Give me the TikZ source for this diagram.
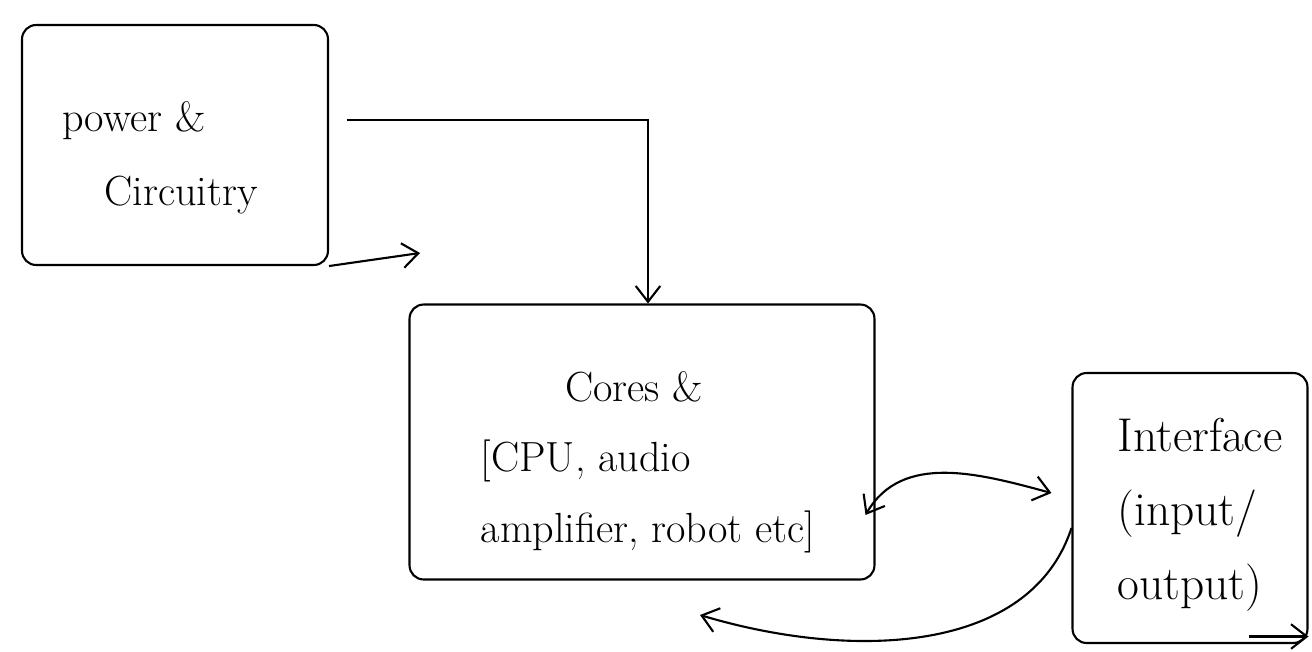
\documentclass[tikz,border=0pt]{standalone}
\usetikzlibrary{arrows.meta}
\begin{document}
\begin{tikzpicture}[x=0.02cm,y=-0.02cm,
  box/.style={draw, line width=1.2pt, rounded corners=8pt, inner sep=0pt},
  lbl/.style={font=\fontsize{24}{40}\selectfont, align=center},
  conn/.style={line width=1.2pt, -{Straight Barb[length=9pt,width=14pt]}},
  both/.style={line width=1.2pt, {Straight Barb[length=9pt,width=14pt]}-{Straight Barb[length=9pt,width=14pt]}}]
\useasboundingbox (0,0) rectangle (1312,652);
% boxes
\node[box, minimum width=6.12cm, minimum height=4.8cm] (power) at (175,145) {};
\node[box, minimum width=9.3cm, minimum height=5.5cm] (cores) at (642,442) {};
\node[box, minimum width=4.7cm, minimum height=5.4cm] (iface) at (1190,508) {};
% texts
\node[lbl, align=left] (tpower) at (160,158) {power \&\\[2pt]\quad Circuitry};
\node[lbl, align=left] (tcores) at (648,462) {\qquad Cores \&\\{}[CPU, audio\\amplifier, robot etc]};
\node[lbl, align=left, font=\fontsize{27}{42}\selectfont] (tiface) at (1200,515) {Interface\\(input/\\output)};
% connectors
\coordinate (pstub) at (420,253);
\draw[conn] ([xshift=0.35cm,yshift=0.5cm]power.east) -| ([xshift=0.12cm]cores.north);
\draw[conn] (power.south east) -- (pstub);
\draw[both] ([xshift=-0.2cm,yshift=-1.46cm]cores.east) to[out=60,in=165] ([xshift=-0.4cm,yshift=0.3cm]iface.west);
\coordinate (ret) at (700,615);
\draw[conn] ([yshift=-0.4cm]iface.west) .. controls (1030,655) and (850,660) .. (ret);
\draw[conn] ([xshift=-1.2cm,yshift=0.15cm]iface.south east) -- ([yshift=0.15cm]iface.south east);
\end{tikzpicture}
\end{document}
